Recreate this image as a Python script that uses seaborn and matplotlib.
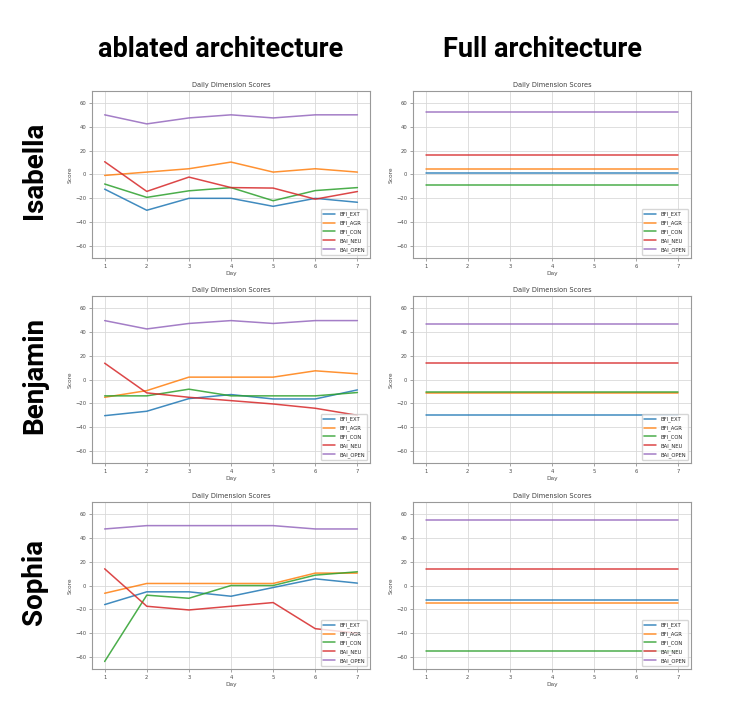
import matplotlib
matplotlib.use("Agg")
import matplotlib.pyplot as plt
import numpy as np
import pandas as pd
import seaborn as sns

days = [1, 2, 3, 4, 5, 6, 7]
dimensions = ["BFI_EXT", "BFI_AGR", "BFI_CON", "BAI_NEU", "BAI_OPEN"]
people = ["Isabella", "Benjamin", "Sophia"]
columns = ["ablated architecture", "Full architecture"]

# ablated architecture, one list per dimension (EXT, AGR, CON, NEU, OPEN)
isabella_ablated = [
    [-12.3, -30.0, -20.0, -20.0, -26.7, -20.0, -23.3],
    [-0.8, 2.0, 4.8, 10.4, 2.0, 4.8, 2.0],
    [-8.0, -19.2, -13.7, -11.0, -22.0, -13.5, -11.0],
    [10.7, -14.2, -2.2, -11.0, -11.4, -20.7, -14.3],
    [50.0, 42.4, 47.4, 50.0, 47.4, 50.0, 50.0],
]
benjamin_ablated = [
    [-30.3, -26.6, -16.0, -12.6, -16.3, -16.3, -8.7],
    [-14.9, -9.3, 2.0, 2.0, 2.0, 7.3, 4.8],
    [-13.7, -13.7, -8.1, -13.7, -13.7, -13.7, -10.9],
    [13.7, -11.2, -14.9, -17.7, -20.5, -24.1, -30.0],
    [49.4, 42.4, 47.0, 49.4, 47.0, 49.4, 49.4],
]
sophia_ablated = [
    [-16.0, -5.3, -5.3, -9.0, -1.7, 5.6, 2.0],
    [-6.5, 1.7, 1.7, 1.7, 1.7, 10.4, 10.4],
    [-63.7, -8.1, -10.7, 0.0, 0.0, 8.7, 11.5],
    [14.0, -17.4, -20.5, -17.4, -14.3, -36.2, -40.0],
    [47.4, 50.2, 50.2, 50.2, 50.2, 47.4, 47.4],
]

# full architecture, constant per dimension
isabella_full = [1.4, 4.2, -8.5, 16.7, 52.6]
benjamin_full = [-30.1, -11.4, -10.3, 13.9, 46.9]
sophia_full = [-12.3, -14.9, -55.3, 13.7, 55.0]

ablated = [isabella_ablated, benjamin_ablated, sophia_ablated]
full = [isabella_full, benjamin_full, sophia_full]

palette = ["#1f77b4", "#ff7f0e", "#2ca02c", "#d62728", "#9467bd"]

sns.set_style("whitegrid", {
    "axes.edgecolor": "0.6",
    "grid.color": "0.85",
    "xtick.bottom": True,
    "ytick.left": True,
})
plt.rcParams["font.family"] = ["DejaVu Sans"]


def long_frame(series):
    rows = []
    for name, values in zip(dimensions, series):
        for day, value in zip(days, values):
            rows.append({"Day": day, "Score": value, "Dimension": name})
    return pd.DataFrame(rows)


def draw_panel(ax, series):
    frame = long_frame(series)
    sns.lineplot(data=frame, x="Day", y="Score", hue="Dimension",
                 hue_order=dimensions, palette=palette, linewidth=1.1,
                 alpha=0.85, ax=ax)
    ax.set_title("Daily Dimension Scores", fontsize=4.8, pad=3, color="0.25")
    ax.set_xlabel("Day", fontsize=4.2, labelpad=2, color="0.3")
    ax.set_ylabel("Score", fontsize=4.2, labelpad=2, color="0.3")
    ax.set_ylim(-70, 70)
    ax.set_yticks([-60, -40, -20, 0, 20, 40, 60])
    ax.set_xticks(days)
    ax.tick_params(labelsize=3.8, length=2, width=0.5, pad=2, color="0.5",
                   labelcolor="0.3")
    for spine in ax.spines.values():
        spine.set_linewidth(0.8)
    ax.grid(True, linewidth=0.6)
    ax.legend(loc="lower right", fontsize=3.8, handlelength=2.2,
              borderpad=0.5, labelspacing=0.6, frameon=True, framealpha=0.8)


fig = plt.figure(figsize=(7.42, 7.22), dpi=100)
lefts = [0.124, 0.5566]
bottoms = [0.6427, 0.3587, 0.0734]
width, height = 0.3747, 0.2313

for r, person in enumerate(people):
    ax = fig.add_axes([lefts[0], bottoms[r], width, height])
    draw_panel(ax, ablated[r])
    ax = fig.add_axes([lefts[1], bottoms[r], width, height])
    draw_panel(ax, [[v] * len(days) for v in full[r]])
    fig.text(0.047, bottoms[r] + height / 2 + 0.005, person, rotation=90,
             ha="center", va="center", fontsize=20, fontweight="bold",
             color="black", family=["Roboto", "DejaVu Sans"])

fig.text(0.297, 0.932, columns[0], ha="center", va="center", fontsize=19.5,
         fontweight="bold", color="black", family=["Roboto", "DejaVu Sans"])
fig.text(0.731, 0.932, columns[1], ha="center", va="center", fontsize=19.5,
         fontweight="bold", color="black", family=["Roboto", "DejaVu Sans"])

fig.savefig("out.png", dpi=100)
